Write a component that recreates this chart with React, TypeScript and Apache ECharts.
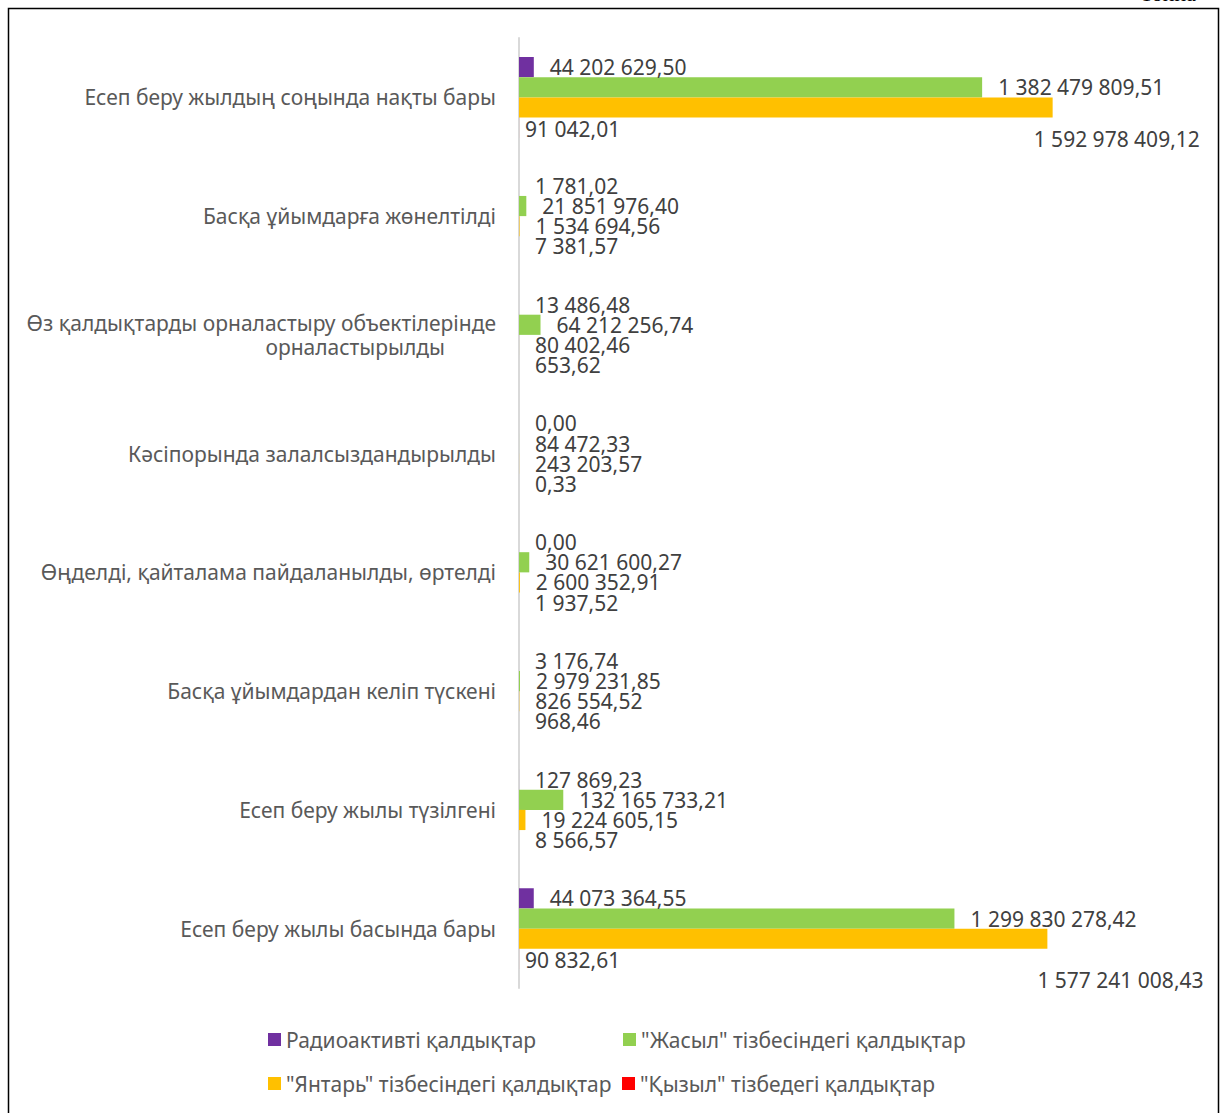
import React, { useEffect, useRef } from 'react';
import * as echarts from 'echarts';

const categories = [
  'Есеп беру жылдың соңында нақты бары',
  'Басқа ұйымдарға жөнелтілді',
  'Өз қалдықтарды орналастыру объектілерінде\nорналастырылды',
  'Кәсіпорында залалсыздандырылды',
  'Өңделді, қайталама пайдаланылды, өртелді',
  'Басқа ұйымдардан келіп түскені',
  'Есеп беру жылы түзілгені',
  'Есеп беру жылы басында бары',
];

const seriesNames = [
  'Радиоактивті қалдықтар',
  '"Жасыл" тізбесіндегі қалдықтар',
  '"Янтарь" тізбесіндегі қалдықтар',
  '"Қызыл" тізбедегі қалдықтар',
];

const radioactive = [44202629.5, 1781.02, 13486.48, 0.0, 0.0, 3176.74, 127869.23, 44073364.55];
const greenList = [1382479809.51, 21851976.4, 64212256.74, 84472.33, 30621600.27, 2979231.85, 132165733.21, 1299830278.42];
const amberList = [1592978409.12, 1534694.56, 80402.46, 243203.57, 2600352.91, 826554.52, 19224605.15, 1577241008.43];
const redList = [91042.01, 7381.57, 653.62, 0.33, 1937.52, 968.46, 8566.57, 90832.61];

const colors = ['#7030A0', '#92D050', '#FFC000', '#FF0000'];

const labelOffsets: Array<Record<number, [number, number]>> = [
  {},
  {},
  { 0: [-35, 32], 7: [-26, 41] },
  { 0: [-10, 1], 7: [-10, 1] },
];

function fmt(v: number): string {
  const [i, d] = v.toFixed(2).split('.');
  return i.replace(/\B(?=(\d{3})+(?!\d))/g, ' ') + ',' + d;
}

const FONT = 'Noto Sans';

export default function App() {
  const ref = useRef<HTMLDivElement>(null);
  useEffect(() => {
    if (!ref.current) return;
    const chart = echarts.init(ref.current, undefined, { renderer: 'svg' });
    const allSeries = [radioactive, greenList, amberList, redList];
    const legendTops = [1029, 1029, 1073, 1073];
    const legendLefts = [268, 623, 268, 622];
    chart.setOption({
      animation: false,
      backgroundColor: '#ffffff',
      textStyle: { fontFamily: FONT },
      grid: { left: 519, top: 38, bottom: 125, right: 34, containLabel: false },
      xAxis: {
        type: 'value',
        min: 0,
        max: 2000000000,
        show: false,
        splitLine: { show: false },
      },
      yAxis: {
        type: 'category',
        data: categories,
        inverse: true,
        axisLine: { show: true, lineStyle: { color: '#d9d9d9', width: 2 } },
        axisTick: { show: false },
        axisLabel: {
          interval: 0,
          margin: 23,
          color: '#595959',
          fontSize: 21,
          fontFamily: FONT,
          align: 'right',
          lineHeight: 24,
          formatter: (v: string) =>
            v
              .split('\n')
              .map((s, i) => (i === 0 ? `{a|${s}}` : `{b|${s}}`))
              .join('\n'),
          rich: {
            a: { color: '#595959', fontSize: 21, fontFamily: FONT, lineHeight: 24 },
            b: {
              color: '#595959',
              fontSize: 21,
              fontFamily: FONT,
              lineHeight: 24,
              padding: [0, 51, 0, 0],
            },
          },
        },
      },
      legend: seriesNames.map((n, k) => ({
        data: [n],
        left: legendLefts[k],
        top: legendTops[k],
        padding: 0,
        icon: 'rect',
        itemWidth: 13,
        itemHeight: 13,
        textStyle: { color: '#595959', fontSize: 21, fontFamily: FONT },
      })),
      series: allSeries.map((vals, k) => ({
        name: seriesNames[k],
        type: 'bar',
        barGap: '0%',
        barCategoryGap: '32%',
        itemStyle: { color: colors[k] },
        label: {
          show: true,
          position: 'right',
          distance: 16,
          color: '#404040',
          fontSize: 21,
          lineHeight: 19,
          fontFamily: FONT,
          formatter: (p: any) => fmt(p.value),
        },
        data: vals.map((v, i) =>
          labelOffsets[k][i] ? { value: v, label: { offset: labelOffsets[k][i] } } : v
        ),
      })),
      graphic: [
        {
          type: 'rect',
          shape: { x: 8.5, y: 8.5, width: 1210, height: 1120 },
          style: { fill: 'none', stroke: '#000000', lineWidth: 1.5 },
          silent: true,
        },
        {
          type: 'text',
          x: 1140,
          y: 4,
          style: {
            text: 'Тонна',
            fontFamily: 'Liberation Serif',
            fontSize: 22,
            fill: '#000000',
            textVerticalAlign: 'bottom',
          },
          silent: true,
        },
      ],
    });
    return () => chart.dispose();
  }, []);
  return (
    <div
      ref={ref}
      style={{ position: 'absolute', left: 0, top: 0, width: 1223, height: 1113 }}
    />
  );
}
